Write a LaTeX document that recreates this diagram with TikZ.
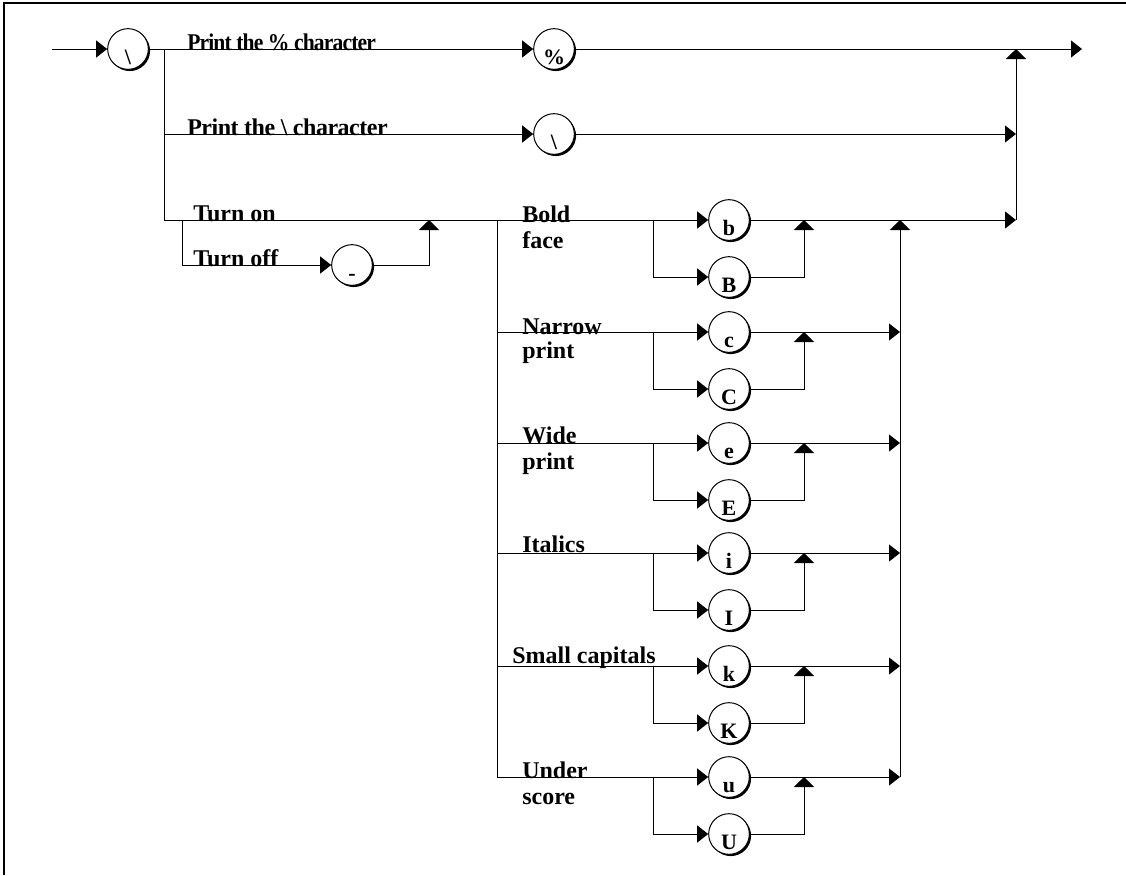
\documentclass[tikz,border=0pt]{standalone}
\usepackage{fontspec}
\usepackage{graphicx}
\setmainfont{Liberation Serif}
\usetikzlibrary{arrows.meta,shadows}
\tikzset{
  wire/.style={line width=0.75pt, draw=black},
  arr/.style={wire, -{Triangle[length=8.25pt,width=12.75pt]}},
  uparr/.style={wire, -{Triangle[length=7.5pt,width=15pt]}},
  term/.style={circle, draw=black, line width=0.75pt, fill=white, minimum size=30.5pt, inner sep=0pt,
    drop shadow={shadow xshift=1.3pt, shadow yshift=-1.3pt, opacity=1, fill=black}},
  termtext/.style={anchor=base, inner sep=0pt, font=\bfseries\fontsize{16.5}{17}\selectfont},
  lbl/.style={anchor=base west, inner sep=0pt, font=\bfseries\fontsize{18}{19}\selectfont},
}
% \mkterm{name}{x}{y}{text}
\newcommand{\mkterm}[4]{%
  \node[term] (#1) at (#2,#3) {};
  \node[termtext] (#1t) at (#2,#3+15) {#4};
}
\begin{document}
\begin{tikzpicture}[x=0.75pt,y=-0.75pt]
\useasboundingbox (0,0) rectangle (1126,875);
% frame
\draw[line width=1.5pt] (4,875) -- (4,3) -- (1126,3);

\coordinate (start) at (52,49);
\coordinate (exit) at (1082,49);
\coordinate (split) at (164,49);

% terminals
\mkterm{bs1}{128}{49}{\textbackslash}
\mkterm{pct}{554}{49}{\%}
\mkterm{bs2}{554}{134}{\textbackslash}
\mkterm{minus}{352}{265}{-}
\mkterm{b}{729}{220}{b}
\mkterm{B}{729}{277}{B}
\mkterm{c}{729}{332}{c}
\mkterm{C}{729}{389}{C}
\mkterm{e}{729}{443}{e}
\mkterm{E}{729}{500}{E}
\mkterm{i}{729}{553}{i}
\mkterm{I}{729}{610}{I}
\mkterm{k}{729}{666}{k}
\mkterm{K}{729}{723}{K}
\mkterm{u}{729}{777}{u}
\mkterm{U}{729}{834}{U}

% main line
\draw[arr] (start) -- (bs1.west);
\draw[wire] (bs1.east) -- (split);
\draw[arr] (split) -- (pct.west);
\draw[arr] (pct.east) -- (exit);

% print backslash
\draw[arr] (164,134) -- (bs2.west);
\draw[arr] (bs2.east) -- (1016,134);

% turn on / off
\draw[wire] (split) -- (164,220);
\draw[arr] (164,220) -- (b.west);
\draw[arr] (b.east) -- (1016,220);
\draw[arr] (182,220) |- (minus.west);
\draw[uparr] (minus.east) -| (429,220);

% right collector
\draw[uparr] (1016,220) -- (1016,49);

% option groups
\draw[wire] (497,220) -- (497,777);
\foreach \lo/\up/\y in {C/c/332, E/e/443, I/i/553, K/k/666, U/u/777}{
  \draw[arr] (497,\y) -- (\up.west);
  \draw[arr] (\up.east) -- (900,\y);
}
\foreach \lo/\y in {B/220, C/332, E/443, I/553, K/666, U/777}{
  \draw[arr] (653,\y) |- (\lo.west);
  \draw[uparr] (\lo.east) -| (804,\y);
}
\draw[uparr] (900,777) -- (900,220);

% labels
\node[lbl] (l1) at (187,50) {\addfontfeatures{LetterSpace=-4}\scalebox{0.9}[1]{Print the \% character}};
\node[lbl] (l2) at (187,135) {\addfontfeatures{LetterSpace=-2}Print the \textbackslash{} character};
\node[lbl] (l3) at (193,221) {Turn on};
\node[lbl] (l4) at (193,266) {Turn off};
\node[lbl] (l5a) at (522,222) {Bold};
\node[lbl] (l5b) at (522,248) {face};
\node[lbl] (l6a) at (522,334) {Narrow};
\node[lbl] (l6b) at (522,358) {print};
\node[lbl] (l7a) at (522,443) {Wide};
\node[lbl] (l7b) at (522,469) {print};
\node[lbl] (l8) at (522,552) {Italics};
\node[lbl] (l9) at (512,663) {Small capitals};
\node[lbl] (l10a) at (522,778) {Under};
\node[lbl] (l10b) at (522,804) {score};
\end{tikzpicture}
\end{document}
